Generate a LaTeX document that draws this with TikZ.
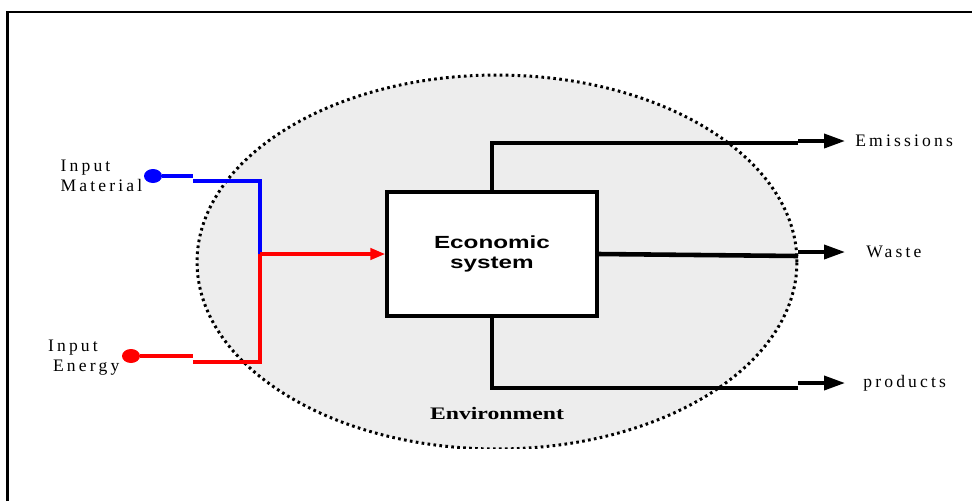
\documentclass[tikz,border=0pt]{standalone}
\usepackage{fontspec}
\setmainfont{Liberation Serif}
\newfontfamily\spacedfont[LetterSpace=18]{Liberation Serif}
\newfontfamily\boxfont{Liberation Sans}
\usetikzlibrary{arrows.meta,positioning,shapes.geometric}
\definecolor{envgray}{RGB}{237,237,237}
\tikzset{
  flow/.style={line width=2.6pt},
  inblue/.style={line width=2.4pt,blue},
  inred/.style={line width=2.4pt,red},
  outarrow/.style={line width=2.1pt,-{Triangle[length=0.42cm,width=0.28cm]},shorten >=0.2cm},
  lbl/.style={font=\spacedfont\fontsize{10}{11.5}\selectfont,align=left,inner sep=0pt},
  srcdot/.style={ellipse,fill,minimum width=0.36cm,minimum height=0.28cm,inner sep=0pt}
}
\begin{document}
\begin{tikzpicture}[x=0.02cm, y=-0.02cm]  % 1 unit = 1 pixel of the original
  \useasboundingbox (0,0) rectangle (972,501);

  % Marco
  \draw[line width=1.7pt] (7.5,501) -- (7.5,12) -- (972,12);

  % Entorno (elipse punteada, cortada abajo)
  \begin{scope}
    \clip (0,0) rectangle (972,448);
    \draw[fill=envgray,line width=1.7pt,dash pattern=on 1.5pt off 1.9pt]
      (497,262) ellipse [x radius=6cm, y radius=3.74cm];
  \end{scope}
  \node[font=\bfseries\fontsize{10}{12}\selectfont] (env) at (497,413)
    {\scalebox{1.35}[1]{Environment}};

  % Sistema economico
  \node[draw,line width=1.8pt,fill=white,minimum width=4.2cm,minimum height=2.48cm,
        align=center,font=\boxfont\bfseries\fontsize{10}{11}\selectfont]
    (econ) at (492,254) {\scalebox{1.38}[1]{Economic}\\\scalebox{1.38}[1]{system}};

  % Entradas
  \node[srcdot,blue] (matdot) at (153,176) {};
  \node[srcdot,red] (engdot) at (131,356) {};
  \node[lbl,left=0.02cm of matdot] (matlbl) {Input\\Material};
  \node[lbl,left=0.04cm of engdot,yshift=-0.04cm] (englbl) {Input\\\hspace*{0.1cm}Energy};

  \coordinate (mj) at (260,254);
  \draw[inblue] (matdot.east) -- (193,176);
  \draw[inblue] (193,181) -| (mj);
  \draw[inred] (engdot.east) -- (193,356);
  \draw[inred] (193,362) -| (mj);
  \draw[inred,-{Triangle[length=0.3cm,width=0.22cm]}] (mj) -- (econ.west);

  % Salidas
  \node[lbl,anchor=west] (emis) at (855,141) {Emissions};
  \node[lbl,anchor=west] (waste) at (866,252) {Waste};
  \node[lbl,anchor=west] (prod) at (863,383) {products};

  \draw[flow] (econ.north) -- (492,143) -- (798,143);
  \draw[flow] (econ.east) -- (798,256);
  \draw[flow] (econ.south) -- (492,388) -- (798,388);

  \coordinate (e1) at (798,141);
  \coordinate (w1) at (798,252);
  \coordinate (p1) at (798,383);
  \draw[outarrow] (e1) -- (emis.west);
  \draw[outarrow,shorten >=0.42cm] (w1) -- (waste.west);
  \draw[outarrow,shorten >=0.36cm] (p1) -- (prod.west);
\end{tikzpicture}
\end{document}
